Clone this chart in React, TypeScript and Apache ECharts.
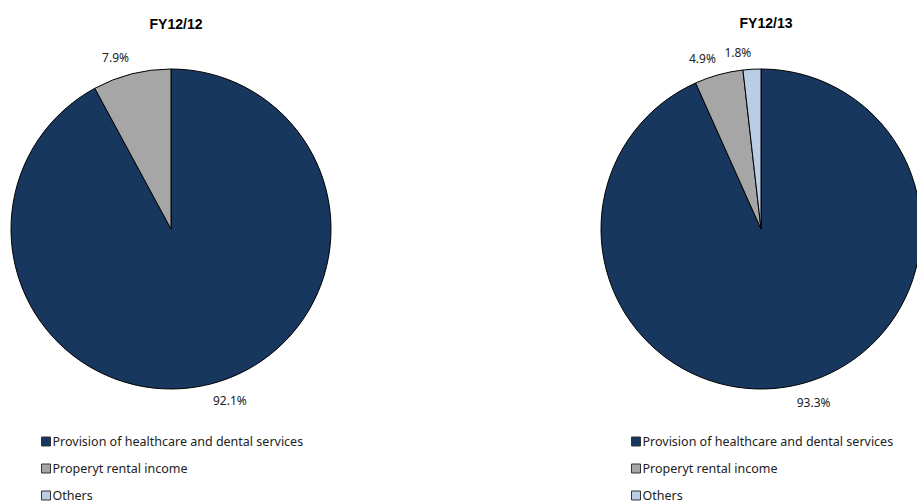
import React, { useEffect, useRef } from "react";
import * as echarts from "echarts";

const categories = [
  "Provision of healthcare and dental services",
  "Properyt rental income",
  "Others",
];
const colors = ["#17375E", "#A6A6A6", "#B9CDE5"];
const titles = ["FY12/12", "FY12/13"];
const fy1212 = [92.1, 7.9, 0];
const fy1213 = [93.3, 4.9, 1.8];

const CY = 229;
const R = 160;
const centersX = [171, 761];

export default function App() {
  const ref = useRef<HTMLDivElement>(null);
  useEffect(() => {
    const chart = echarts.init(ref.current!, undefined, { renderer: "svg" });
    const allVals = [fy1212, fy1213];
    const mkData = (vals: number[]) =>
      vals
        .map((v, i) => ({ name: categories[i], value: v, itemStyle: { color: colors[i] } }))
        .filter((d) => d.value > 0);
    const labelPos = (seriesIndex: number, dataIndex: number, w: number, h: number) => {
      const vals = allVals[seriesIndex].filter((v) => v > 0);
      const total = vals.reduce((a, b) => a + b, 0);
      let start = 0;
      for (let i = 0; i < dataIndex; i++) start += vals[i];
      const mid = ((start + vals[dataIndex] / 2) / total) * Math.PI * 2;
      const d = R + 11;
      const s = Math.sin(mid);
      const c = Math.cos(mid);
      const px = centersX[seriesIndex] + d * s;
      const py = CY - d * c;
      return {
        x: px + Math.sign(s) * w / 2,
        y: py - Math.sign(c) * h / 2,
      };
    };
    const mkSeries = (vals: number[], si: number) => ({
      type: "pie",
      center: [centersX[si], CY],
      radius: R,
      startAngle: 90,
      clockwise: true,
      data: mkData(vals),
      itemStyle: { borderColor: "#000", borderWidth: 1 },
      label: {
        show: true,
        position: "outside",
        formatter: (p: any) => p.value.toFixed(1) + "%",
        fontFamily: "Noto Sans",
        fontSize: 12,
        color: "#222",
      },
      labelLine: { show: false, length: 10, length2: 0 },
      labelLayout: (params: any) => {
        const w = params.labelRect.width;
        const h = params.labelRect.height;
        const p = labelPos(params.seriesIndex, params.dataIndex, w, h);
        return { x: p.x, y: p.y, align: "center", verticalAlign: "middle" };
      },
      emphasis: { disabled: true },
    });
    const legendBase = {
      orient: "vertical",
      icon: "rect",
      itemWidth: 9,
      itemHeight: 9,
      itemGap: 14,
      height: 120,
      selectedMode: false,
      textStyle: {
        fontFamily: "Noto Sans",
        fontSize: 12.5,
        color: "#222",
        padding: [0, 0, 0, -3],
      },
      itemStyle: { borderColor: "#333", borderWidth: 1 },
      data: categories,
    };
    const titleStyle = {
      fontFamily: "Liberation Sans",
      fontSize: 14,
      fontWeight: "bold",
      color: "#000",
    };
    chart.setOption({
      animation: false,
      title: [
        { text: titles[0], left: centersX[0], textAlign: "center", top: 12, textStyle: titleStyle },
        { text: titles[1], left: centersX[1], textAlign: "center", top: 11, textStyle: titleStyle },
      ],
      legend: [
        { ...legendBase, left: 36, top: 430 },
        { ...legendBase, left: 626, top: 430 },
      ],
      series: [mkSeries(fy1212, 0), mkSeries(fy1213, 1)],
    });
    return () => chart.dispose();
  }, []);
  return (
    <div
      ref={ref}
      style={{ position: "fixed", left: 0, top: 0, width: 917, height: 504, background: "#fff" }}
    />
  );
}
